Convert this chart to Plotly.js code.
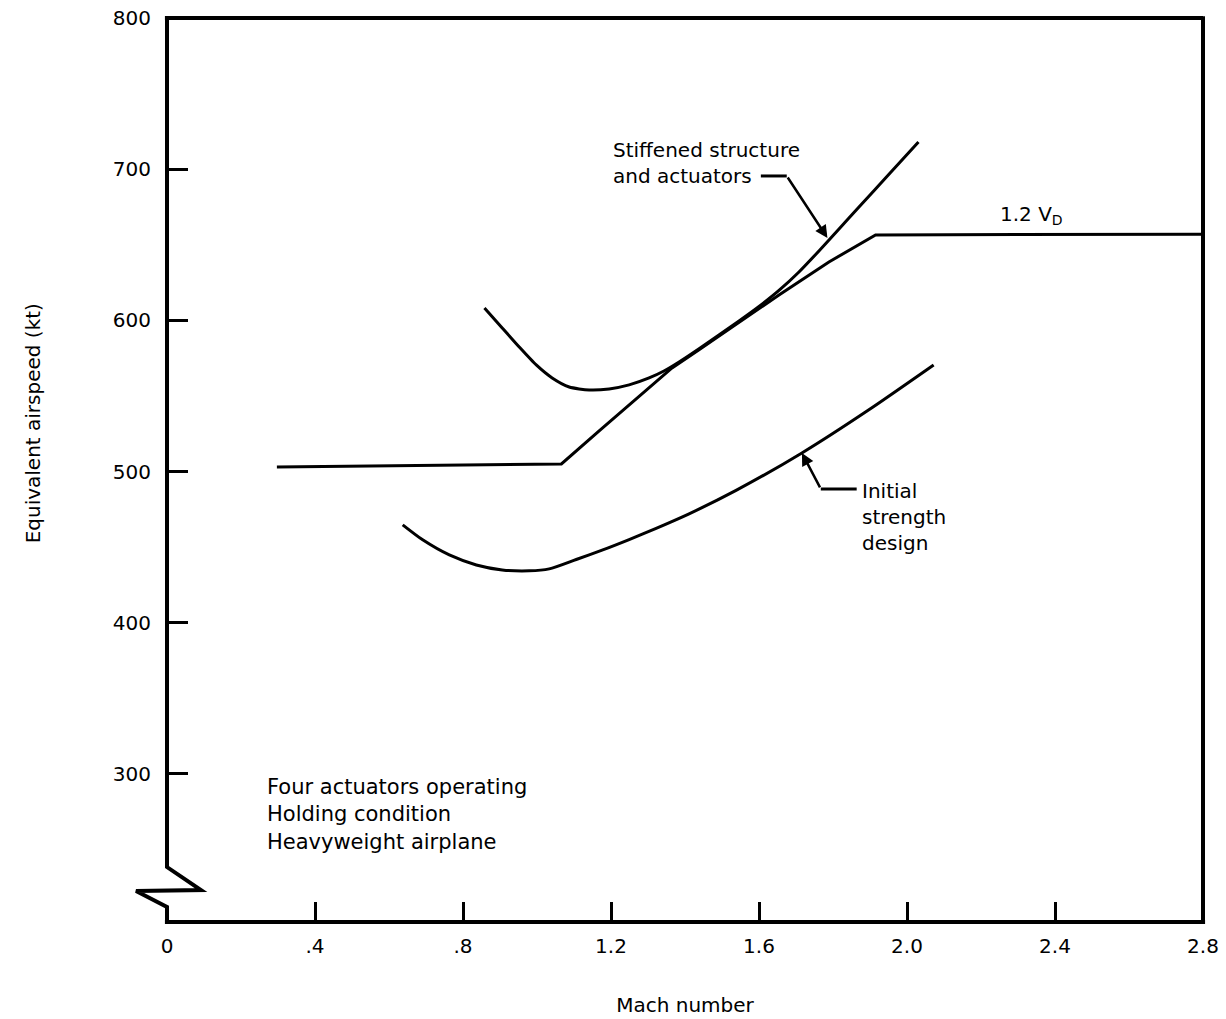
<!DOCTYPE html>
<html>
<head>
<meta charset="utf-8">
<script src="https://cdn.plot.ly/plotly-3.0.1.min.js"></script>
<style>html,body{margin:0;padding:0;background:#fff;}#chart{width:1226px;height:1019px;}</style>
</head>
<body>
<div id="chart"></div>
<script>
// 1.2 V_D boundary
const vdMach = [0.297, 1.066, 1.168, 1.241, 1.303, 1.365, 1.437, 1.546, 1.654, 1.789, 1.915, 2.8];
const vdKeas = [503, 505, 526.9, 542.1, 555.3, 568.5, 580.4, 598.9, 616.8, 638.6, 656.5, 657];

// Stiffened structure and actuators
const stiffMach = [0.858, 0.906, 0.952, 0.998, 1.041, 1.087, 1.141, 1.195, 1.249, 1.303, 1.343, 1.384, 1.437, 1.546, 1.600, 1.654, 1.708, 1.762, 1.815, 1.869, 1.950, 2.031];
const stiffKeas = [608.2, 595.0, 582.4, 570.5, 561.9, 555.9, 553.9, 554.6, 557.3, 561.9, 566.5, 572.5, 581.1, 599.6, 609.2, 619.8, 632.0, 645.9, 660.1, 674.6, 696.3, 718.0];

// Initial strength design
const initMach = [0.637, 0.691, 0.763, 0.836, 0.906, 0.979, 1.033, 1.106, 1.176, 1.249, 1.322, 1.411, 1.538, 1.716, 1.896, 2.072];
const initKeas = [464.7, 454.8, 444.8, 438.2, 434.9, 434.3, 435.6, 441.8, 448.0, 455.0, 462.4, 472.0, 487.5, 512.3, 540.7, 570.5];

const xTickVals = [0.4, 0.8, 1.2, 1.6, 2.0, 2.4];
const xTickText = ['.4', '.8', '1.2', '1.6', '2.0', '2.4'];
const xEndVals = [0, 2.8];
const xEndText = ['0', '2.8'];
const yTickVals = [300, 400, 500, 600, 700, 800];
const yTickText = ['300', '400', '500', '600', '700', '800'];

const FONT = '"DejaVu Sans", Verdana, sans-serif';
const lineStyle = {color: '#000', width: 3};

const traces = [
  {x: vdMach, y: vdKeas, mode: 'lines', line: lineStyle, name: '1.2 VD'},
  {x: stiffMach, y: stiffKeas, mode: 'lines', line: Object.assign({shape: 'spline', smoothing: 0.6}, lineStyle), name: 'Stiffened structure and actuators'},
  {x: initMach, y: initKeas, mode: 'lines', line: Object.assign({shape: 'spline', smoothing: 0.7}, lineStyle), name: 'Initial strength design'},
  {x: [], y: [], xaxis: 'x2', yaxis: 'y', showlegend: false, hoverinfo: 'skip'}
];

const axLine = {color: '#000', width: 4};
const tickFont = {family: FONT, size: 20, color: '#000'};
const layout = {
  width: 1226, height: 1019,
  margin: {l: 167, r: 23, t: 18, b: 97},
  paper_bgcolor: '#fff', plot_bgcolor: '#fff',
  showlegend: false,
  font: {family: FONT, color: '#000', size: 20},
  xaxis: {
    range: [0, 2.8], showgrid: false, zeroline: false, showline: false,
    tickvals: xTickVals, ticktext: xTickText,
    ticks: 'inside', ticklen: 20, tickwidth: 3, tickcolor: '#000',
    ticklabelstandoff: 10,
    tickfont: tickFont,
    title: {text: 'Mach number', font: {family: FONT, size: 20, color: '#000'}, standoff: 40}
  },
  xaxis2: {
    overlaying: 'x', anchor: 'y', side: 'bottom', matches: 'x',
    range: [0, 2.8], showgrid: false, zeroline: false, showline: false,
    tickvals: xEndVals, ticktext: xEndText, ticks: '',
    ticklabelstandoff: 10,
    tickfont: tickFont
  },
  yaxis: {
    range: [202, 800], showgrid: false, zeroline: false, showline: false,
    tickvals: yTickVals, ticktext: yTickText,
    ticks: 'inside', ticklen: 21, tickwidth: 3, tickcolor: '#000',
    ticklabelstandoff: 15,
    tickfont: tickFont
  },
  shapes: [
    // left axis with break symbol
    {type: 'path', xref: 'paper', yref: 'paper',
     path: 'M 0 1 L 0 0.0608 L 0.0328 0.0354 L -0.0299 0.0343 L 0 0.0166 L 0 0',
     line: axLine},
    {type: 'line', xref: 'paper', yref: 'paper', x0: -0.002, y0: 0, x1: 1.002, y1: 0, line: axLine},
    {type: 'line', xref: 'paper', yref: 'paper', x0: 1, y0: 0, x1: 1, y1: 1.002, line: axLine},
    {type: 'line', xref: 'paper', yref: 'paper', x0: -0.002, y0: 1, x1: 1, y1: 1, line: axLine},
    // leader line pieces
    {type: 'line', xref: 'x', yref: 'y', x0: 1.605, y0: 695.5, x1: 1.675, y1: 695.5, line: {color: '#000', width: 3}},
    {type: 'line', xref: 'x', yref: 'y', x0: 1.767, y0: 488.5, x1: 1.864, y1: 488.5, line: {color: '#000', width: 3}}
  ],
  annotations: [
    {x: 1.785, y: 654.5, ax: 1.675, ay: 695.5, axref: 'x', ayref: 'y', xref: 'x', yref: 'y',
     text: '', showarrow: true, arrowhead: 2, arrowsize: 1, arrowwidth: 2.5, arrowcolor: '#000'},
    {x: 1.716, y: 512.3, ax: 1.767, ay: 488.5, axref: 'x', ayref: 'y', xref: 'x', yref: 'y',
     text: '', showarrow: true, arrowhead: 2, arrowsize: 1, arrowwidth: 2.5, arrowcolor: '#000'},
    {x: 1.200, y: 704, xref: 'x', yref: 'y', xanchor: 'left', yanchor: 'middle', align: 'left',
     text: 'Stiffened structure<br>and actuators', showarrow: false, font: {family: FONT, size: 20, color: '#000'}},
    {x: 1.872, y: 470, xref: 'x', yref: 'y', xanchor: 'left', yanchor: 'middle', align: 'left',
     text: 'Initial<br>strength<br>design', showarrow: false, font: {family: FONT, size: 20, color: '#000'}},
    {x: 2.247, y: 670, xref: 'x', yref: 'y', xanchor: 'left', yanchor: 'middle', align: 'left',
     text: '1.2 V<sub>D</sub>', showarrow: false, font: {family: FONT, size: 20, color: '#000'}},
    {x: 0.264, y: 273, xref: 'x', yref: 'y', xanchor: 'left', yanchor: 'middle', align: 'left',
     text: 'Four actuators operating<br>Holding condition<br>Heavyweight airplane', showarrow: false,
     font: {family: FONT, size: 21, color: '#000'}},
    {x: -0.129, y: 0.552, xref: 'paper', yref: 'paper', xanchor: 'center', yanchor: 'middle',
     text: 'Equivalent airspeed (kt)', textangle: -90, showarrow: false,
     font: {family: FONT, size: 20, color: '#000'}}
  ]
};

Plotly.newPlot('chart', traces, layout, {displayModeBar: false, staticPlot: true});
</script>
</body>
</html>
